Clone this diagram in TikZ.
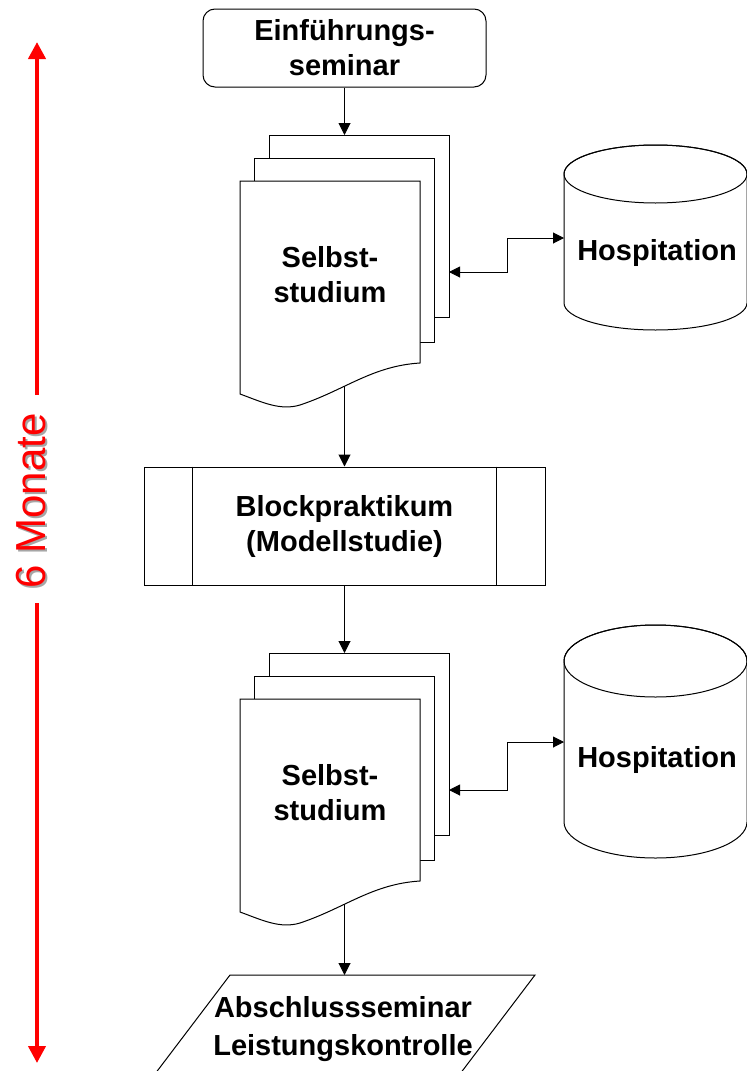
\documentclass[tikz,border=0pt]{standalone}
\usepackage{fontspec}
\setmainfont{Liberation Sans}
\usetikzlibrary{arrows.meta}
\begin{document}
\begin{tikzpicture}[x=1pt,y=-1pt,
 box/.style={draw=black,line width=1pt,fill=white},
 lbl/.style={font=\fontsize{29}{35}\selectfont\bfseries,align=center,inner sep=0pt},
 flow/.style={line width=1pt,-{Triangle[length=12pt,width=12pt]}},
 dflow/.style={line width=1pt,{Triangle[length=11pt,width=11pt]}-{Triangle[length=11pt,width=11pt]}},
 redln/.style={red,line width=4pt,-{Triangle[length=17pt,width=17pt]}},
 redtxt/.style={rotate=90,inner sep=0pt,font=\fontsize{42}{42}\selectfont}]
\useasboundingbox (0,0) rectangle (747,1071);
\clip (0,0) rectangle (747,1071);

% red time axis
\coordinate (rtop) at (37,42);
\coordinate (rbot) at (37,1063);
\coordinate (rga) at (37,395);
\coordinate (rgb) at (37,603);
\node[redtxt,text=black!35] (rlsh) at (33,503) {6 Monate};
\node[redtxt,text=red] (rl) at (31,501) {6 Monate};
\draw[redln] (rga) -- (rtop);
\draw[redln] (rgb) -- (rbot);

% start
\node[box,rounded corners=12pt,minimum width=283pt,minimum height=78pt,lbl] (e) at (344.5,48) {Einführungs-\\seminar};

% stack 1
\draw[box] (269,135) rectangle (449,317);
\draw[box] (254,158) rectangle (434,342);
\draw[box] (240,181) -- (420,181) -- (420,363) .. controls (372,366) and (345,390) .. (300,405) .. controls (280,411) and (262,402) .. (240,394) -- cycle;
\node[lbl] (s1) at (330,275) {Selbst-\\studium};
\coordinate (s1top) at (344.5,135);
\coordinate (s1bot) at (344.5,386);
\coordinate (s1r) at (449,272);

% hospitation 1
\draw[box] (564,174) -- (564,303) arc[start angle=180,end angle=0,x radius=91.5,y radius=27] -- (747,174) arc[start angle=0,end angle=-180,x radius=91.5,y radius=29] -- cycle;
\draw[line width=1pt] (655.5,174) ellipse[x radius=91.5,y radius=29];
\node[lbl] (h1) at (657,253) {Hospitation};
\coordinate (h1l) at (564,238);

% block
\node[box,minimum width=401pt,minimum height=118pt,lbl] (b) at (344.5,526) {Blockpraktikum\\(Modellstudie)};
\draw[line width=1pt] ([xshift=49pt]b.north west) -- ([xshift=49pt]b.south west);
\draw[line width=1pt] ([xshift=-49pt]b.north east) -- ([xshift=-49pt]b.south east);

% stack 2
\begin{scope}[shift={(0,518)}]
\draw[box] (269,135) rectangle (449,317);
\draw[box] (254,158) rectangle (434,342);
\draw[box] (240,181) -- (420,181) -- (420,363) .. controls (372,366) and (345,390) .. (300,405) .. controls (280,411) and (262,402) .. (240,394) -- cycle;
\node[lbl] (s2) at (330,275) {Selbst-\\studium};
\coordinate (s2top) at (344.5,135);
\coordinate (s2bot) at (344.5,386);
\coordinate (s2r) at (449,272);
\end{scope}

% hospitation 2
\draw[box] (564,661) -- (564,822) arc[start angle=180,end angle=0,x radius=91.5,y radius=36] -- (747,661) arc[start angle=0,end angle=-180,x radius=91.5,y radius=36] -- cycle;
\draw[line width=1pt] (655.5,661) ellipse[x radius=91.5,y radius=36];
\node[lbl] (h2) at (657,760) {Hospitation};
\coordinate (h2l) at (564,742);

% final parallelogram
\draw[box] (230,975) -- (535,975) -- (455.4,1080) -- (150.4,1080) -- cycle;
\node[lbl,font=\fontsize{29}{38}\selectfont\bfseries] (p) at (343,1029) {Abschlussseminar\\Leistungskontrolle};
\coordinate (ptop) at (344.5,975);

% connectors
\draw[flow] (e.south) -- (s1top);
\draw[flow] (s1bot) -- (b.north);
\draw[flow] (b.south) -- (s2top);
\draw[flow] (s2bot) -- (ptop);
\draw[dflow] (s1r) -- ++(58,0) |- (h1l);
\draw[dflow] (s2r) -- ++(58,0) |- (h2l);
\end{tikzpicture}
\end{document}
